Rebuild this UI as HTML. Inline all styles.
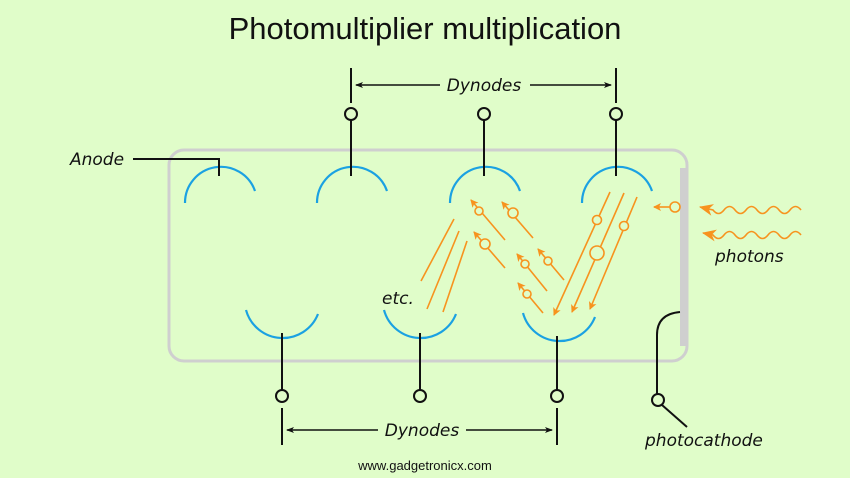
<!DOCTYPE html>
<html><head><meta charset="utf-8"><style>
html,body{margin:0;padding:0;background:#e0fdc9;}
svg{display:block}
.h{font-family:"DejaVu Sans","Liberation Sans",sans-serif;font-style:italic;font-size:17px;fill:#111}
</style></head><body>
<svg width="850" height="478" viewBox="0 0 850 478" xmlns="http://www.w3.org/2000/svg">
<defs>
<marker id="ob" markerWidth="8" markerHeight="8" refX="7" refY="4" orient="auto" markerUnits="userSpaceOnUse"><path d="M0,0 L8,4 L0,8 L2,4z" fill="#f7931e"/></marker>
<marker id="ol" markerWidth="14" markerHeight="12" refX="13" refY="6" orient="auto" markerUnits="userSpaceOnUse"><path d="M0,0 L14,6 L0,12 L4,6z" fill="#f7931e"/></marker>
<marker id="bk" markerWidth="8" markerHeight="8" refX="7" refY="4" orient="auto" markerUnits="userSpaceOnUse"><path d="M0,1 L8,4 L0,7 L2,4z" fill="#111"/></marker>
</defs>
<rect width="850" height="478" fill="#e0fdc9"/>
<text x="425" y="39" text-anchor="middle" font-family="Liberation Sans,sans-serif" font-size="31" fill="#111">Photomultiplier multiplication</text>
<rect x="169" y="150" width="518" height="211" rx="15" fill="none" stroke="#cfcfcf" stroke-width="3"/>
<rect x="680" y="168" width="7" height="178" fill="#cfcfcf"/>
<g fill="none" stroke="#1ba1e2" stroke-width="2.2">
<path d="M185,203 A36,36 0 0 1 255,191"/>
<path d="M317,203 A36,36 0 0 1 387,191"/>
<path d="M450,203 A36,36 0 0 1 520,191"/>
<path d="M582,203 A36,36 0 0 1 652,191"/>
<path d="M246,310 A38,38 0 0 0 318,314"/>
<path d="M384,310 A38,38 0 0 0 456,314"/>
<path d="M523,313 A38,38 0 0 0 595,317"/>
</g>
<g fill="none" stroke="#111" stroke-width="2">
<path d="M133,159 H219 V176"/>
<line x1="351" y1="120" x2="351" y2="176"/><circle cx="351" cy="114" r="6"/><line x1="351" y1="68" x2="351" y2="103"/>
<line x1="484" y1="120" x2="484" y2="176"/><circle cx="484" cy="114" r="6"/>
<line x1="616" y1="120" x2="616" y2="176"/><circle cx="616" cy="114" r="6"/><line x1="616" y1="68" x2="616" y2="103"/>
<line x1="282" y1="333" x2="282" y2="390"/><circle cx="282" cy="396" r="6"/><line x1="282" y1="408" x2="282" y2="445"/>
<line x1="420" y1="333" x2="420" y2="390"/><circle cx="420" cy="396" r="6"/>
<line x1="557" y1="336" x2="557" y2="390"/><circle cx="557" cy="396" r="6"/><line x1="557" y1="408" x2="557" y2="445"/>
<path d="M680,312 Q657,314 657,335 V394"/><circle cx="658" cy="400" r="6"/><line x1="662" y1="405" x2="687" y2="427"/>
<line x1="440" y1="85" x2="356" y2="85" marker-end="url(#bk)" stroke-width="1.5"/>
<line x1="530" y1="85" x2="611" y2="85" marker-end="url(#bk)" stroke-width="1.5"/>
<line x1="378" y1="430" x2="287" y2="430" marker-end="url(#bk)" stroke-width="1.5"/>
<line x1="466" y1="430" x2="552" y2="430" marker-end="url(#bk)" stroke-width="1.5"/>
</g>
<text class="h" x="484" y="91" text-anchor="middle">Dynodes</text>
<text class="h" x="422" y="436" text-anchor="middle">Dynodes</text>
<text class="h" x="70" y="165">Anode</text>
<text class="h" x="382" y="304" font-size="15">etc.</text>
<text class="h" x="715" y="262">photons</text>
<text class="h" x="645" y="446">photocathode</text>
<text x="425" y="470" text-anchor="middle" font-family="Liberation Sans,sans-serif" font-size="13" fill="#111">www.gadgetronicx.com</text>
<g fill="none" stroke="#f7931e" stroke-width="1.6">
<line x1="421" y1="281" x2="454" y2="219"/>
<line x1="427" y1="309" x2="459" y2="231"/>
<line x1="443" y1="312" x2="467" y2="241"/>
<line x1="505" y1="240" x2="471" y2="200" marker-end="url(#ob)"/><circle cx="479" cy="211" r="4" fill="#e0fdc9"/>
<line x1="533" y1="238" x2="502" y2="202" marker-end="url(#ob)"/><circle cx="513" cy="213" r="5" fill="#e0fdc9"/>
<line x1="505" y1="268" x2="474" y2="232" marker-end="url(#ob)"/><circle cx="485" cy="244" r="5" fill="#e0fdc9"/>
<line x1="547" y1="291" x2="517" y2="254" marker-end="url(#ob)"/><circle cx="525" cy="264" r="4" fill="#e0fdc9"/>
<line x1="564" y1="280" x2="538" y2="249" marker-end="url(#ob)"/><circle cx="548" cy="261" r="4" fill="#e0fdc9"/>
<line x1="543" y1="313" x2="518" y2="283" marker-end="url(#ob)"/><circle cx="527" cy="294" r="4" fill="#e0fdc9"/>
<line x1="610" y1="192" x2="554" y2="315" marker-end="url(#ob)"/><circle cx="597" cy="220" r="4.5" fill="#e0fdc9"/>
<line x1="624" y1="193" x2="572" y2="312" marker-end="url(#ob)"/><circle cx="597" cy="253" r="7" fill="#e0fdc9"/>
<line x1="637" y1="197" x2="590" y2="309" marker-end="url(#ob)"/><circle cx="624" cy="226" r="4.5" fill="#e0fdc9"/>
<line x1="670" y1="207" x2="654" y2="207" marker-end="url(#ob)"/><circle cx="675" cy="207" r="5" fill="#e0fdc9"/>
<path d="M801,210 q-5.5,-7 -11,0 t-11,0 t-11,0 t-11,0 t-11,0 t-11,0 t-11,0 t-11,0 L700,207" marker-end="url(#ol)"/>
<path d="M801,235 q-5.5,-7 -11,0 t-11,0 t-11,0 t-11,0 t-11,0 t-11,0 t-11,0 t-11,0 L703,233" marker-end="url(#ol)"/>
</g>
</svg>
</body></html>
